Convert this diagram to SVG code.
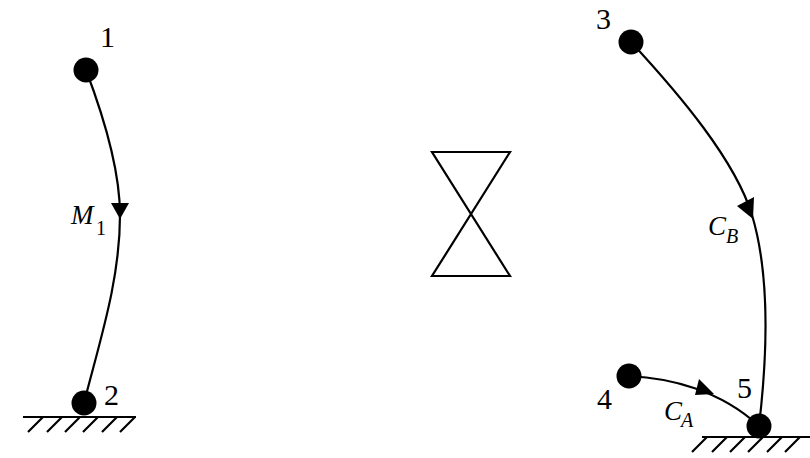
<svg xmlns="http://www.w3.org/2000/svg" width="810" height="458" viewBox="0 0 810 458">
<style>
.ln{fill:none;stroke:#000;stroke-width:2.2}
.nd{fill:#000}
.ar{fill:#000}
.num{font-family:"Liberation Serif","DejaVu Serif",serif;font-size:30px;fill:#000}
.mth{font-family:"Liberation Serif","DejaVu Serif",serif;font-style:italic;font-size:27px;fill:#000}
.sub{font-family:"Liberation Serif","DejaVu Serif",serif;font-style:italic;font-size:20px;fill:#000}
.sb{font-family:"Liberation Serif","DejaVu Serif",serif;font-size:20px;fill:#000}
</style>
<rect width="810" height="458" fill="#fff"/>
<g id="connectors">
<path class="ln" d="M86,70 C105,120 120,170 120,215 C120,280 100,340 84,403"/>
<polygon class="ar" points="111,203 129,203 120,219"/>
<path class="ln" d="M631,42 C680,95 735,160 752,215 C770,275 768,350 759,426"/>
<polygon class="ar" points="737,206 754,197 753,219"/>
<path class="ln" d="M629,376 C670,378 720,390 759,426"/>
<polygon class="ar" points="695,395 699,379 714,394"/>
</g>
<g id="node1"><circle class="nd" cx="86" cy="70" r="12.5"/><text class="num" x="100" y="47">1</text></g>
<g id="node2"><circle class="nd" cx="84" cy="403" r="12.5"/><text class="num" x="104" y="405">2</text>
<path class="ln" d="M23,417 H136 M43,417 L28,432 M62,417 L47,432 M80,417 L65,432 M98,417 L83,432 M117,417 L102,432 M135,417 L120,432"/></g>
<g id="node3"><circle class="nd" cx="631" cy="42" r="12.5"/><text class="num" x="596" y="29">3</text></g>
<g id="node4"><circle class="nd" cx="629" cy="376" r="12.5"/><text class="num" x="597" y="409">4</text></g>
<g id="node5"><circle class="nd" cx="759" cy="426" r="12.5"/><text class="num" x="737" y="398">5</text>
<path class="ln" d="M702,437 H810 M707,437 L692,452 M727,437 L712,452 M745,437 L730,452 M763,437 L748,452 M782,437 L767,452 M800,437 L785,452"/></g>
<g id="hourglass"><path class="ln" d="M432,152 H510 L432,276 H510 Z" stroke-linejoin="miter"/></g>
<g id="labels">
<text class="mth" x="71" y="224" textLength="24">M</text><text class="sb" x="96" y="235">1</text>
<text class="mth" x="708" y="235">C</text><text class="sub" x="726" y="243">B</text>
<text class="mth" x="664" y="420">C</text><text class="sub" x="681" y="427">A</text>
</g>
</svg>
